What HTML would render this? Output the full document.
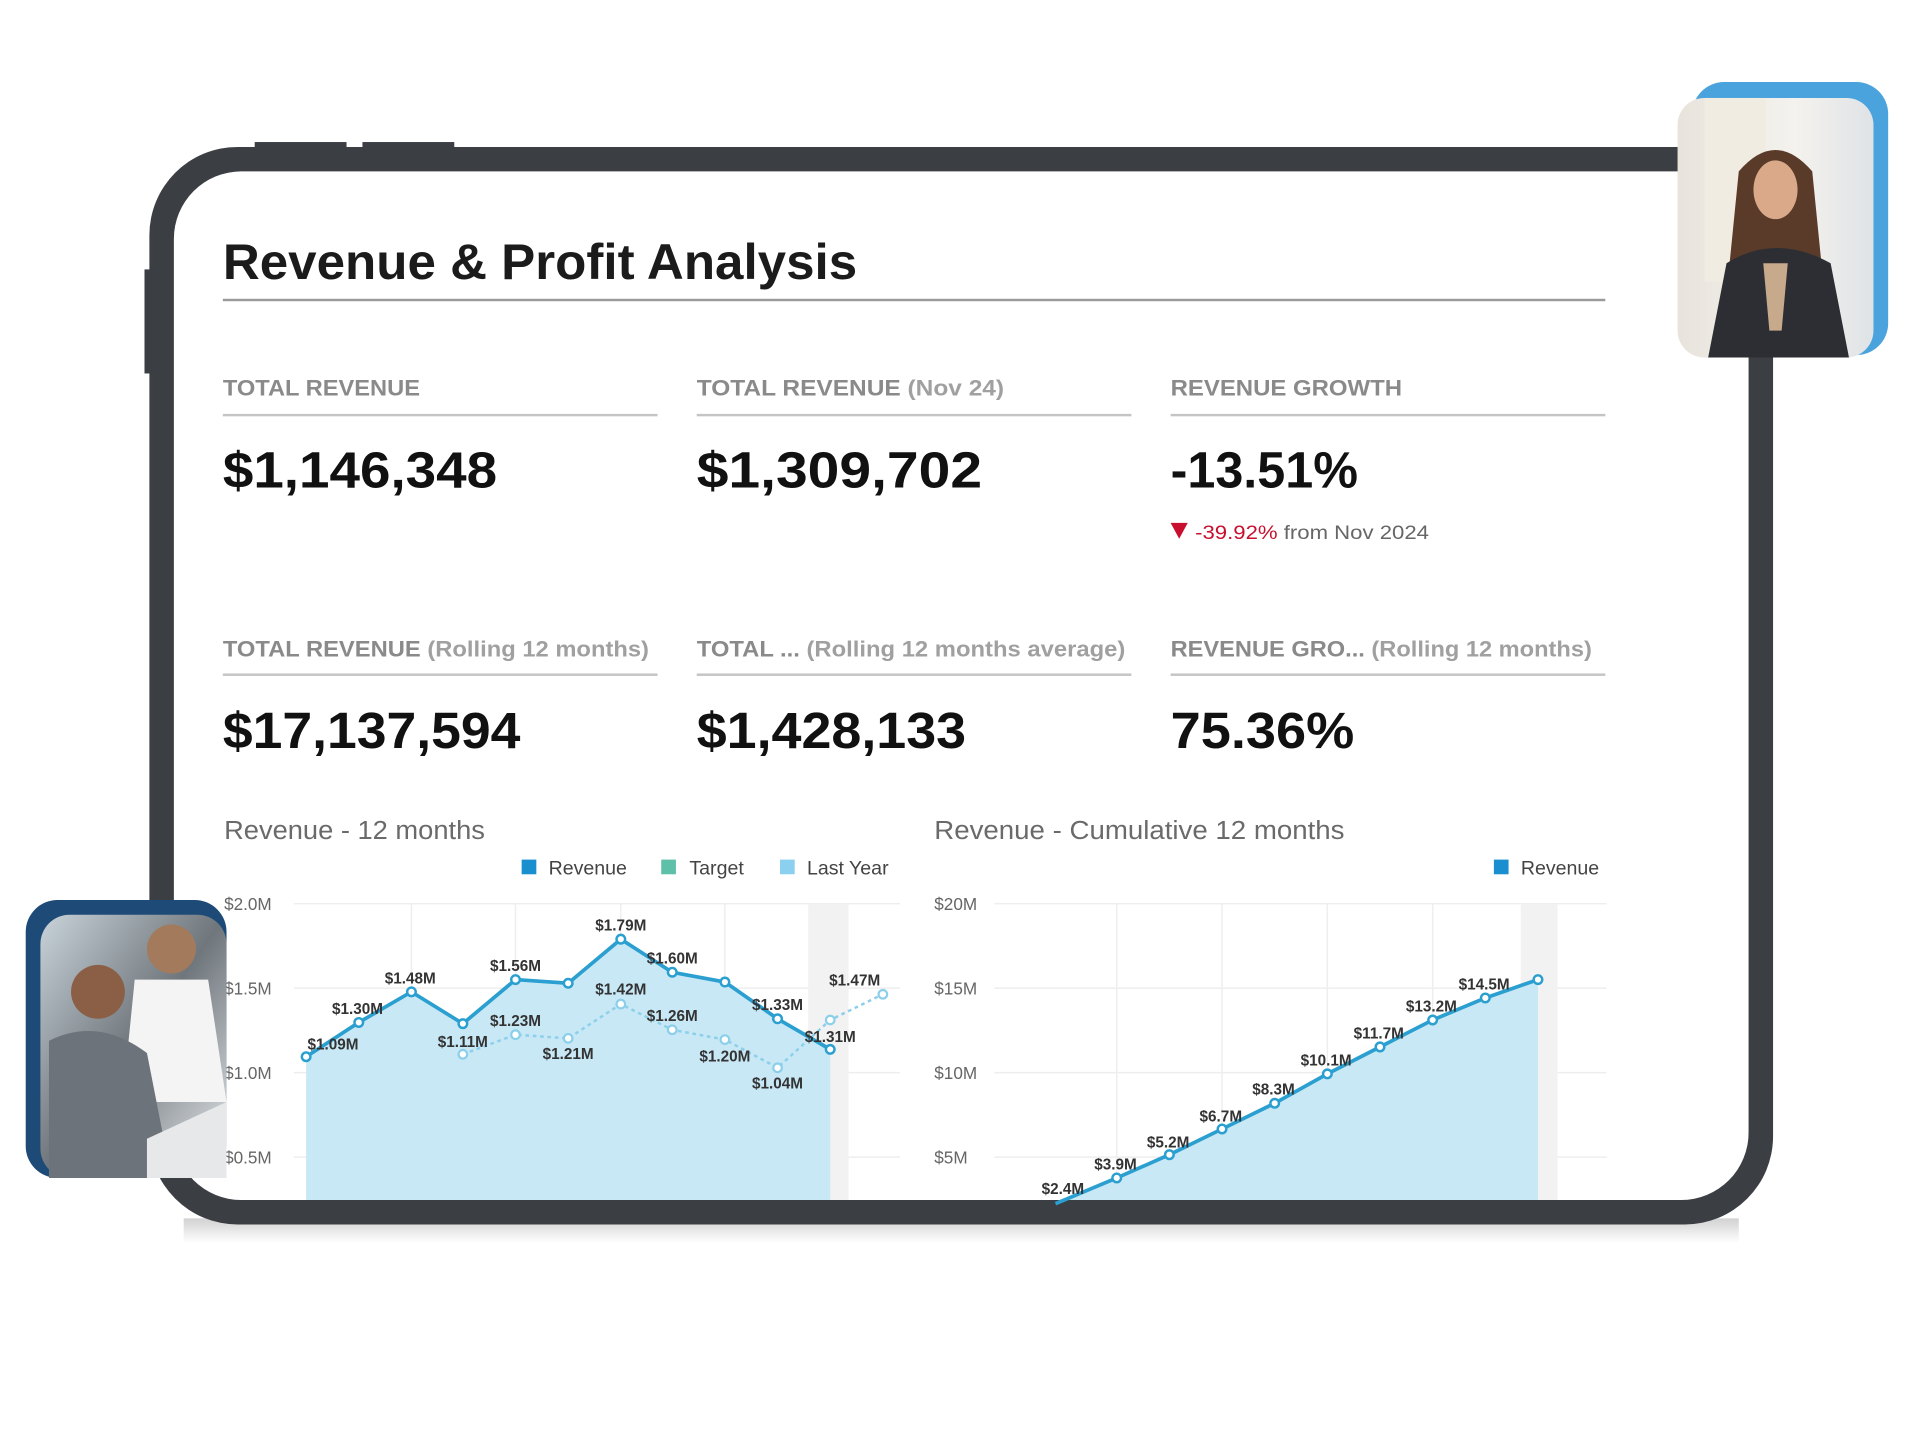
<!DOCTYPE html>
<html><head><meta charset="utf-8"><style>
html,body{margin:0;padding:0;background:#fff;width:1920px;height:1440px;overflow:hidden}
svg{display:block}
text{font-family:"Liberation Sans",sans-serif}
</style></head><body>
<svg width="1920" height="1440" viewBox="0 0 1568 1176" xmlns="http://www.w3.org/2000/svg">
<defs>
<linearGradient id="sh" x1="0" y1="0" x2="0" y2="1"><stop offset="0" stop-color="#000" stop-opacity=".18"/><stop offset="1" stop-color="#000" stop-opacity="0"/></linearGradient>
<linearGradient id="p1" x1="0" y1="0" x2="1" y2="1"><stop offset="0" stop-color="#c9d3da"/><stop offset=".5" stop-color="#6f767c"/><stop offset="1" stop-color="#e9ecee"/></linearGradient>
<linearGradient id="p2" x1="0" y1="0" x2="1" y2="0"><stop offset="0" stop-color="#e8e4dc"/><stop offset=".6" stop-color="#f4f2ee"/><stop offset="1" stop-color="#dfe3e6"/></linearGradient>
</defs>
<rect x="150" y="995" width="1270" height="20" fill="url(#sh)"/>
<rect x="122" y="120" width="1326" height="880" rx="72" fill="#3b3e43"/>
<rect x="118" y="220" width="6" height="85" fill="#3b3e43"/>
<rect x="208" y="116" width="75" height="6" fill="#3b3e43"/><rect x="296" y="116" width="75" height="6" fill="#3b3e43"/>
<rect x="142" y="140" width="1286" height="840" rx="55" fill="#fff"/>
<text x="182" y="228" font-size="41" fill="#1b1b1b" font-weight="bold" textLength="518" lengthAdjust="spacingAndGlyphs">Revenue &amp; Profit Analysis</text>
<rect x="182" y="244" width="1129" height="2" fill="#9a9a9a"/>
<g font-size="18" font-weight="bold" fill="#8a8a8a">
<text x="182" y="323" textLength="161" lengthAdjust="spacingAndGlyphs">TOTAL REVENUE</text>
<text x="569" y="323" textLength="251" lengthAdjust="spacingAndGlyphs">TOTAL REVENUE <tspan fill="#a0a0a0">(Nov 24)</tspan></text>
<text x="956" y="323" textLength="189" lengthAdjust="spacingAndGlyphs">REVENUE GROWTH</text>
<text x="182" y="536" textLength="348" lengthAdjust="spacingAndGlyphs">TOTAL REVENUE <tspan fill="#a0a0a0">(Rolling 12 months)</tspan></text>
<text x="569" y="536" textLength="350" lengthAdjust="spacingAndGlyphs">TOTAL ... <tspan fill="#a0a0a0">(Rolling 12 months average)</tspan></text>
<text x="956" y="536" textLength="344" lengthAdjust="spacingAndGlyphs">REVENUE GRO... <tspan fill="#a0a0a0">(Rolling 12 months)</tspan></text>
</g>
<g fill="#c4c4c4"><rect x="182" y="338" width="355" height="2"/><rect x="569" y="338" width="355" height="2"/><rect x="956" y="338" width="355" height="2"/>
<rect x="182" y="550" width="355" height="2"/><rect x="569" y="550" width="355" height="2"/><rect x="956" y="550" width="355" height="2"/></g>
<g font-size="42" fill="#111" font-weight="bold">
<text x="182" y="398" textLength="224" lengthAdjust="spacingAndGlyphs">$1,146,348</text>
<text x="569" y="398" textLength="233" lengthAdjust="spacingAndGlyphs">$1,309,702</text>
<text x="956" y="398" textLength="153" lengthAdjust="spacingAndGlyphs">-13.51%</text>
<text x="182" y="611" textLength="243" lengthAdjust="spacingAndGlyphs">$17,137,594</text>
<text x="569" y="611" textLength="220" lengthAdjust="spacingAndGlyphs">$1,428,133</text>
<text x="956" y="611" textLength="150" lengthAdjust="spacingAndGlyphs">75.36%</text>
</g>
<polygon points="956,427 970,427 963,440" fill="#c8102e"/>
<text x="976" y="440" font-size="16" fill="#c8102e" textLength="191" lengthAdjust="spacingAndGlyphs">-39.92% <tspan fill="#666">from Nov 2024</tspan></text>
<g font-size="21" fill="#6a6a6a"><text x="183" y="685" textLength="213" lengthAdjust="spacingAndGlyphs">Revenue - 12 months</text><text x="763" y="685" textLength="335" lengthAdjust="spacingAndGlyphs">Revenue - Cumulative 12 months</text></g>
<g font-size="16" fill="#444">
<rect x="426" y="702" width="12" height="12" fill="#1a8fd0"/><text x="448" y="714">Revenue</text>
<rect x="540" y="702" width="12" height="12" fill="#5ec0a8"/><text x="563" y="714">Target</text>
<rect x="637" y="702" width="12" height="12" fill="#8cd0ef"/><text x="659" y="714">Last Year</text>
<rect x="1220" y="702" width="12" height="12" fill="#1a8fd0"/><text x="1242" y="714">Revenue</text>
</g>
<g font-size="14" fill="#666">
<text x="183" y="743">$2.0M</text><text x="183" y="812">$1.5M</text><text x="183" y="881">$1.0M</text><text x="183" y="950">$0.5M</text>
<text x="763" y="743">$20M</text><text x="763" y="812">$15M</text><text x="763" y="881">$10M</text><text x="763" y="950">$5M</text>
</g>
<g stroke="#eeeeee" stroke-width="1.2">
<line x1="240" y1="738" x2="735" y2="738"/><line x1="240" y1="807" x2="735" y2="807"/><line x1="240" y1="876" x2="735" y2="876"/><line x1="240" y1="945" x2="735" y2="945"/>
<line x1="812" y1="738" x2="1312" y2="738"/><line x1="812" y1="807" x2="1312" y2="807"/><line x1="812" y1="876" x2="1312" y2="876"/><line x1="812" y1="945" x2="1312" y2="945"/>
<line x1="336" y1="738" x2="336" y2="980"/><line x1="421" y1="738" x2="421" y2="980"/><line x1="507" y1="738" x2="507" y2="980"/><line x1="592" y1="738" x2="592" y2="980"/>
<line x1="912" y1="738" x2="912" y2="980"/><line x1="998" y1="738" x2="998" y2="980"/><line x1="1084" y1="738" x2="1084" y2="980"/><line x1="1170" y1="738" x2="1170" y2="980"/>
</g>
<rect x="660" y="738" width="33" height="242" fill="#f2f2f2"/>
<rect x="1242" y="738" width="30" height="242" fill="#f2f2f2"/>
<polygon points="250,980 250,863 293,835 336,810 378,836 421,800 464,803 507,767 549,794 592,802 635,832 678,857 678,980" fill="#c8e8f6"/>
<polyline points="378,861 421,845 464,848 507,820 549,841 592,849 635,872 678,833 721,812" fill="none" stroke="#8ccfea" stroke-width="2" stroke-dasharray="3,3"/>
<polyline points="250,863 293,835 336,810 378,836 421,800 464,803 507,767 549,794 592,802 635,832 678,857" fill="none" stroke="#2a9fd0" stroke-width="3"/>
<g fill="#fff" stroke="#8ccfea" stroke-width="1.8">
<circle cx="378" cy="861" r="3.5"/><circle cx="421" cy="845" r="3.5"/><circle cx="464" cy="848" r="3.5"/><circle cx="507" cy="820" r="3.5"/><circle cx="549" cy="841" r="3.5"/><circle cx="592" cy="849" r="3.5"/><circle cx="635" cy="872" r="3.5"/><circle cx="678" cy="833" r="3.5"/><circle cx="721" cy="812" r="3.5"/></g>
<g fill="#fff" stroke="#2a9fd0" stroke-width="2">
<circle cx="250" cy="863" r="3.5"/><circle cx="293" cy="835" r="3.5"/><circle cx="336" cy="810" r="3.5"/><circle cx="378" cy="836" r="3.5"/><circle cx="421" cy="800" r="3.5"/><circle cx="464" cy="803" r="3.5"/><circle cx="507" cy="767" r="3.5"/><circle cx="549" cy="794" r="3.5"/><circle cx="592" cy="802" r="3.5"/><circle cx="635" cy="832" r="3.5"/><circle cx="678" cy="857" r="3.5"/></g>
<g font-size="12.5" font-weight="bold" fill="#333" text-anchor="middle">
<text x="272" y="857">$1.09M</text><text x="292" y="828">$1.30M</text><text x="335" y="803">$1.48M</text><text x="378" y="855">$1.11M</text>
<text x="421" y="793">$1.56M</text><text x="421" y="838">$1.23M</text><text x="464" y="865">$1.21M</text><text x="507" y="760">$1.79M</text>
<text x="507" y="812">$1.42M</text><text x="549" y="787">$1.60M</text><text x="549" y="834">$1.26M</text><text x="592" y="867">$1.20M</text>
<text x="635" y="825">$1.33M</text><text x="635" y="889">$1.04M</text><text x="678" y="851">$1.31M</text><text x="698" y="805">$1.47M</text>
</g>
<polygon points="862,980 869,980 912,962 955,943 998,922 1041,901 1084,877 1127,855 1170,833 1213,815 1256,800 1256,980" fill="#c8e8f6"/>
<polyline points="862,983 912,962 955,943 998,922 1041,901 1084,877 1127,855 1170,833 1213,815 1256,800" fill="none" stroke="#2a9fd0" stroke-width="3"/>
<g fill="#fff" stroke="#2a9fd0" stroke-width="2">
<circle cx="912" cy="962" r="3.5"/><circle cx="955" cy="943" r="3.5"/><circle cx="998" cy="922" r="3.5"/><circle cx="1041" cy="901" r="3.5"/><circle cx="1084" cy="877" r="3.5"/><circle cx="1127" cy="855" r="3.5"/><circle cx="1170" cy="833" r="3.5"/><circle cx="1213" cy="815" r="3.5"/><circle cx="1256" cy="800" r="3.5"/></g>
<g font-size="12.5" font-weight="bold" fill="#333" text-anchor="middle">
<text x="868" y="975">$2.4M</text><text x="911" y="955">$3.9M</text><text x="954" y="937">$5.2M</text><text x="997" y="916">$6.7M</text>
<text x="1040" y="894">$8.3M</text><text x="1083" y="870">$10.1M</text><text x="1126" y="848">$11.7M</text><text x="1169" y="826">$13.2M</text><text x="1212" y="808">$14.5M</text>
</g>
<rect x="21" y="735" width="164" height="227" rx="26" fill="#1e4a78"/>
<rect x="33" y="747" width="152" height="215" rx="24" fill="url(#p1)"/>
<circle cx="140" cy="775" r="20" fill="#a47a5c"/>
<path d="M110 800 L170 800 L185 900 L100 900 Z" fill="#f4f4f4"/>
<circle cx="80" cy="810" r="22" fill="#8a5f45"/>
<path d="M40 850 Q80 830 120 860 L140 962 L40 962 Z" fill="#6c737b"/>
<path d="M120 930 L185 900 L185 962 L120 962 Z" fill="#e6e8ea"/>
<rect x="1382" y="67" width="160" height="223" rx="26" fill="#4aa3dc"/>
<rect x="1370" y="80" width="160" height="212" rx="22" fill="url(#p2)"/>
<rect x="1392" y="80" width="50" height="150" fill="#f0ece2"/>
<path d="M1420 140 Q1450 105 1480 140 L1490 240 L1410 240 Z" fill="#5a3a28"/>
<ellipse cx="1450" cy="155" rx="18" ry="24" fill="#d9a98a"/>
<path d="M1395 292 L1410 215 Q1450 190 1495 215 L1510 292 Z" fill="#2c2e33"/>
<path d="M1440 215 L1460 215 L1455 270 L1445 270 Z" fill="#c7a98c"/>
</svg>
</body></html>
